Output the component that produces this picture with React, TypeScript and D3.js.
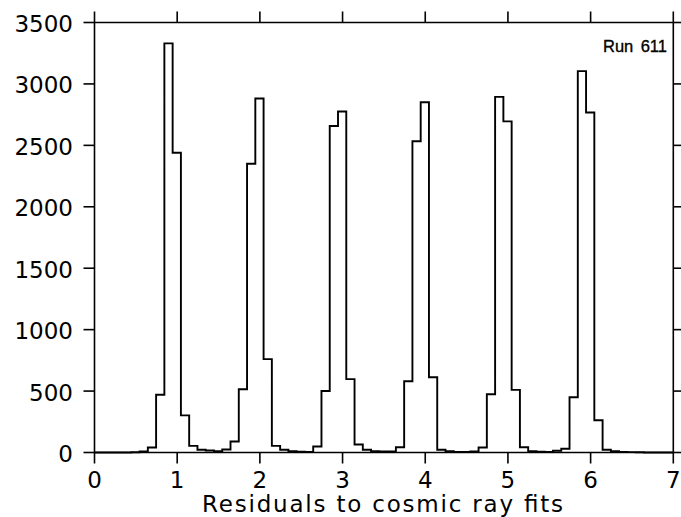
import React from "react";
import * as d3 from "d3";

// Histogram: bins of width 0.1 whose first left edge is at 0.045
const binStart = 0.045;
const binWidth = 0.1;
const counts = [
  0, 0, 0, 0, 2, 8, 41, 470, 3330, 2440,
  302, 54, 22, 16, 11, 25, 90, 515, 2350, 2882,
  760, 54, 22, 11, 6, 5, 49, 500, 2658, 2775,
  597, 65, 22, 11, 8, 8, 43, 580, 2534, 2851,
  613, 22, 10, 5, 5, 8, 41, 474, 2895, 2695,
  510, 43, 11, 6, 5, 14, 30, 450, 3104, 2768,
  262, 22, 11, 5, 3, 2, 0, 0, 0, 0,
];
const xTicks = [0, 1, 2, 3, 4, 5, 6, 7];
const yTicks = [0, 500, 1000, 1500, 2000, 2500, 3000, 3500];
const xLabel = "Residuals to cosmic ray fits";
const runWord = "Run";
const runNumber = "611";

const W = 681;
const H = 517;
const left = 94.5;
const right = 673.3;
const top = 22.5;
const bottom = 452.5;
const tickLen = 11;
const font = "'DejaVu Sans', sans-serif";

export default function App() {
  const x = d3.scaleLinear().domain([0, 7]).range([left, right]);
  const y = d3.scaleLinear().domain([0, 3500]).range([bottom, top]);

  const pts: [number, number][] = [[0, 0]];
  counts.forEach((c, i) => {
    const lo = Math.max(0, binStart + i * binWidth);
    const hi = Math.min(7, binStart + (i + 1) * binWidth);
    pts.push([lo, c]);
    pts.push([hi, c]);
  });
  pts.push([7, 0]);
  const line = d3
    .line<[number, number]>()
    .x((d) => x(d[0]))
    .y((d) => y(d[1]));

  return (
    <svg
      width={W}
      height={H}
      style={{ position: "absolute", left: 0, top: 0, background: "#fff" }}
    >
      <rect x={0} y={0} width={W} height={H} fill="#fff" />
      <path d={line(pts) || ""} fill="none" stroke="#000" strokeWidth={1.9} strokeLinejoin="miter" />
      {/* frame */}
      <g stroke="#000" strokeWidth={1.6} fill="none">
        <line x1={left} x2={right} y1={top} y2={top} />
        <line x1={left} x2={right} y1={bottom} y2={bottom} />
        <line x1={left} x2={left} y1={top} y2={bottom} />
        <line x1={right} x2={right} y1={top} y2={bottom} />
        {xTicks.map((t) => (
          <g key={"xt" + t}>
            <line x1={x(t)} x2={x(t)} y1={top} y2={top - tickLen} />
            <line x1={x(t)} x2={x(t)} y1={bottom} y2={bottom + tickLen} />
          </g>
        ))}
        {yTicks.map((t) => (
          <g key={"yt" + t}>
            <line x1={left} x2={left - tickLen} y1={y(t)} y2={y(t)} />
            <line x1={right} x2={right + tickLen} y1={y(t)} y2={y(t)} />
          </g>
        ))}
      </g>
      <g fontFamily={font} fontSize={23} fill="#000">
        {yTicks.map((t) => (
          <text key={"yl" + t} x={73} y={y(t) + 9.5} textAnchor="end">
            {t}
          </text>
        ))}
        {xTicks.map((t) => (
          <text key={"xl" + t} x={x(t)} y={488} textAnchor="middle">
            {t}
          </text>
        ))}
        <text x={202} y={511.5} textLength={361} lengthAdjust="spacing">
          {xLabel}
        </text>
      </g>
      <g
        fontFamily="'Liberation Sans', Arial, sans-serif"
        fontSize={16.5}
        fill="#000"
        stroke="#000"
        strokeWidth={0.35}
      >
        <text x={603} y={51.7}>{runWord}</text>
        <text x={667} y={51.7} textAnchor="end">{runNumber}</text>
      </g>
    </svg>
  );
}
